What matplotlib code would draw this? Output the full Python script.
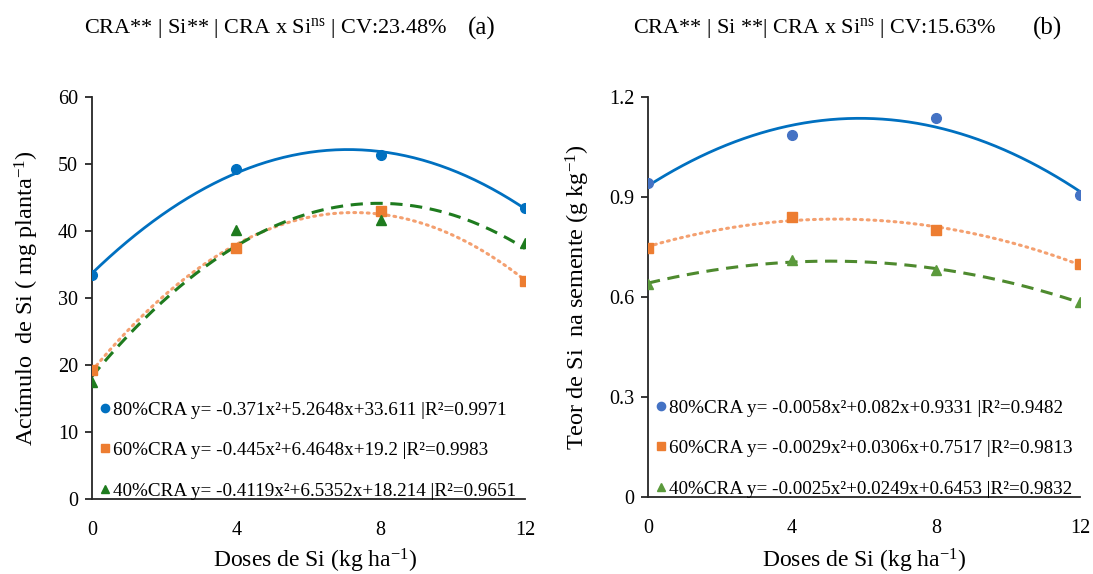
import numpy as np
import matplotlib.pyplot as plt

plt.rcParams['font.family'] = ['Liberation Serif', 'DejaVu Serif']
plt.rcParams['mathtext.fontset'] = 'custom'
plt.rcParams['mathtext.rm'] = 'Liberation Serif'
plt.rcParams['mathtext.it'] = 'Liberation Serif:italic'

doses = [0, 4, 8, 12]

# (a) acumulo de Si (mg planta-1)
acu_80 = [33.5, 49.2, 51.3, 43.5]
acu_60 = [19.3, 37.5, 43.0, 32.5]
acu_40 = [17.5, 40.2, 41.7, 38.2]
acu_lab = ['80%CRA y= -0.371x²+5.2648x+33.611 |R²=0.9971',
           '60%CRA y= -0.445x²+6.4648x+19.2 |R²=0.9983',
           '40%CRA y= -0.4119x²+6.5352x+18.214 |R²=0.9651']

# (b) teor de Si na semente (g kg-1)
teor_80 = [0.943, 1.087, 1.138, 0.907]
teor_60 = [0.748, 0.840, 0.800, 0.700]
teor_40 = [0.640, 0.710, 0.680, 0.585]
teor_lab = ['80%CRA y= -0.0058x²+0.082x+0.9331 |R²=0.9482',
            '60%CRA y= -0.0029x²+0.0306x+0.7517 |R²=0.9813',
            '40%CRA y= -0.0025x²+0.0249x+0.6453 |R²=0.9832']

fig = plt.figure(figsize=(10.93, 5.74), dpi=100)
axa = fig.add_axes([0.0842, 0.1307, 0.3961, 0.7003])
axb = fig.add_axes([0.5929, 0.1341, 0.3952, 0.6969])

xx = np.linspace(0, 12, 200)


def painel(ax, d80, d60, d40, labs, cols):
    c80, c60, c40, l80, l60, l40 = cols
    # linhas de tendencia polinomiais (2a ordem), como no Excel
    ax.plot(xx, np.polyval(np.polyfit(doses, d80, 2), xx), color=l80, lw=2.0, ls='-', zorder=2)
    ax.plot(xx, np.polyval(np.polyfit(doses, d60, 2), xx), color=l60, lw=2.2,
            ls=(0, (0.6, 1.6)), dash_capstyle='round', zorder=2)
    ax.plot(xx, np.polyval(np.polyfit(doses, d40, 2), xx), color=l40, lw=2.2,
            ls=(0, (4, 2.5)), zorder=2)
    h1, = ax.plot(doses, d80, 'o', color=c80, ms=7, ls='none', label=labs[0], zorder=3)
    h2, = ax.plot(doses, d60, 's', color=c60, ms=7, ls='none', label=labs[1], zorder=3)
    h3, = ax.plot(doses, d40, '^', color=c40, ms=7, ls='none', label=labs[2], zorder=3)
    ax.legend(handles=[h1, h2, h3], loc='lower left', bbox_to_anchor=(-0.01, -0.03),
              frameon=False, fontsize=13.8, handlelength=0.6, handletextpad=0.1,
              labelspacing=1.2, markerscale=0.85, borderaxespad=0.2)
    ax.set_xlim(0, 12)
    ax.set_xticks([0, 4, 8, 12])
    for s in ['top', 'right']:
        ax.spines[s].set_visible(False)
    for s in ['left', 'bottom']:
        ax.spines[s].set_color('#262626')
        ax.spines[s].set_linewidth(1.3)
    ax.tick_params(axis='x', length=0, pad=16, labelsize=14.5)
    ax.tick_params(axis='y', length=5, width=1.3, color='#262626', pad=5, labelsize=14.5)


painel(axa, acu_80, acu_60, acu_40, acu_lab,
       ['#0070C0', '#ED7D31', '#1E7B1E', '#0070C0', '#F4A070', '#1E7B1E'])
axa.set_ylim(0, 60)
axa.set_yticks([0, 10, 20, 30, 40, 50, 60])
axa.set_ylabel('Acúmulo  de Si ( mg planta$^{-1}$)', fontsize=17.5, labelpad=12)

painel(axb, teor_80, teor_60, teor_40, teor_lab,
       ['#4472C4', '#ED7D31', '#5B9A3C', '#0070C0', '#F4A070', '#4E8A2E'])
axb.set_ylim(0, 1.2)
axb.set_yticks([0, 0.3, 0.6, 0.9, 1.2])
axb.set_yticklabels(['0', '0.3', '0.6', '0.9', '1.2'])
axb.set_ylabel('Teor de Si  na semente (g kg$^{-1}$)', fontsize=17.5, labelpad=12)

fig.text(0.2886, 0.0105, 'Doses de Si (kg ha$^{-1}$)', ha='center', va='baseline', fontsize=17)
fig.text(0.7905, 0.0105, 'Doses de Si (kg ha$^{-1}$)', ha='center', va='baseline', fontsize=17)

fig.text(0.2434, 0.951, 'CRA** | Si** | CRA x Si$^{\\mathrm{ns}}$ | CV:23.48%',
         ha='center', va='center', fontsize=16)
fig.text(0.441, 0.951, '(a)', ha='center', va='center', fontsize=18)
fig.text(0.7457, 0.951, 'CRA** | Si **| CRA x Si$^{\\mathrm{ns}}$ | CV:15.63%',
         ha='center', va='center', fontsize=16)
fig.text(0.958, 0.951, '(b)', ha='center', va='center', fontsize=18)

fig.savefig('out.png', dpi=100)
